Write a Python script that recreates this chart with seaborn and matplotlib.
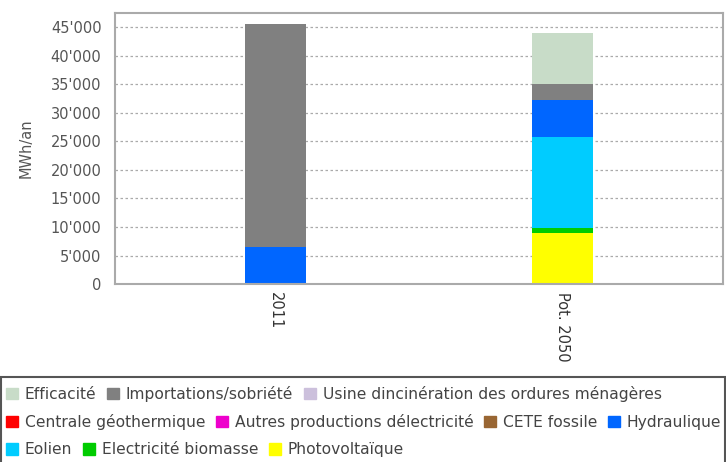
import matplotlib
matplotlib.use("Agg")
import matplotlib.pyplot as plt
import matplotlib.patches as mpatches
from matplotlib.ticker import FuncFormatter
import seaborn as sns
import pandas as pd

# Données (MWh/an), ordre d'empilement du bas vers le haut
categories = ["2011", "Pot. 2050"]
photovoltaique = [0, 9000]
biomasse = [0, 800]
eolien = [0, 16000]
hydraulique = [6500, 6400]
cete_fossile = [0, 0]
autres_prod = [0, 0]
geothermique = [0, 0]
incineration = [0, 0]
importations = [39000, 2900]
efficacite = [0, 8950]

series = [
    ("Photovoltaïque", photovoltaique, "#ffff00"),
    ("Electricité biomasse", biomasse, "#00cc00"),
    ("Eolien", eolien, "#00ccff"),
    ("Hydraulique", hydraulique, "#0066ff"),
    ("CETE fossile", cete_fossile, "#996633"),
    ("Autres productions délectricité", autres_prod, "#ee00cc"),
    ("Centrale géothermique", geothermique, "#ff0000"),
    ("Usine dincinération des ordures ménagères", incineration, "#ccc0dc"),
    ("Importations/sobriété", importations, "#808080"),
    ("Efficacité", efficacite, "#c8dcc8"),
]

sns.set_style("white")
plt.rcParams["font.family"] = ["DejaVu Sans"]
plt.rcParams["font.size"] = 10

fig = plt.figure(figsize=(7.26, 4.62), dpi=100)
ax = fig.add_axes([0.158, 0.385, 0.838, 0.587])

# barres empilées : on trace les cumuls du plus haut au plus bas
df = pd.DataFrame({name: vals for name, vals, _ in series}, index=categories)
cum = df.cumsum(axis=1)
for name, _, color in reversed(series):
    sns.barplot(x=categories, y=cum[name].values, color=color, width=0.21,
                saturation=1, ax=ax, edgecolor="none", linewidth=0)

ax.set_ylim(0, 47500)
ax.set_xlim(-0.56, 1.56)
ax.set_yticks(range(0, 45001, 5000))
ax.yaxis.set_major_formatter(FuncFormatter(lambda v, p: f"{int(v):,}".replace(",", "'")))
ax.set_axisbelow(True)
ax.yaxis.grid(True, linestyle=(0, (2, 2)), color="#aaaaaa", linewidth=0.9)
ax.set_ylabel("MWh/an", color="#555555", fontsize=10.5, labelpad=12)
ax.tick_params(axis="y", colors="#555555", length=6, width=1, color="#999999", labelsize=10.5)
ax.tick_params(axis="x", length=0, labelsize=10.5, colors="#333333", pad=6)
for lbl in ax.get_xticklabels():
    lbl.set_rotation(270)
    lbl.set_va("top")
    lbl.set_ha("center")
for sp in ax.spines.values():
    sp.set_color("#aaaaaa")
    sp.set_linewidth(1.5)

# légende en trois lignes
colors = {name: color for name, _, color in series}
rows = [
    ["Efficacité", "Importations/sobriété", "Usine dincinération des ordures ménagères"],
    ["Centrale géothermique", "Autres productions délectricité", "CETE fossile", "Hydraulique"],
    ["Eolien", "Electricité biomasse", "Photovoltaïque"],
]
row_y = [0.148, 0.087, 0.026]
for names, y in zip(rows, row_y):
    handles = [mpatches.Patch(color=colors[n], label=n) for n in names]
    leg = fig.legend(handles=handles, loc="center left", bbox_to_anchor=(0.004, y),
                     ncol=len(names), frameon=False, fontsize=11.2,
                     handlelength=0.75, handleheight=0.75, handletextpad=0.45,
                     columnspacing=0.7, borderaxespad=0, borderpad=0.2)
    for t in leg.get_texts():
        t.set_color("#444444")

fig.patches.append(mpatches.Rectangle((0.002, -0.01), 0.996, 0.193, transform=fig.transFigure,
                                      fill=False, edgecolor="#555555", linewidth=1.5))

fig.savefig("out.png", dpi=100)
